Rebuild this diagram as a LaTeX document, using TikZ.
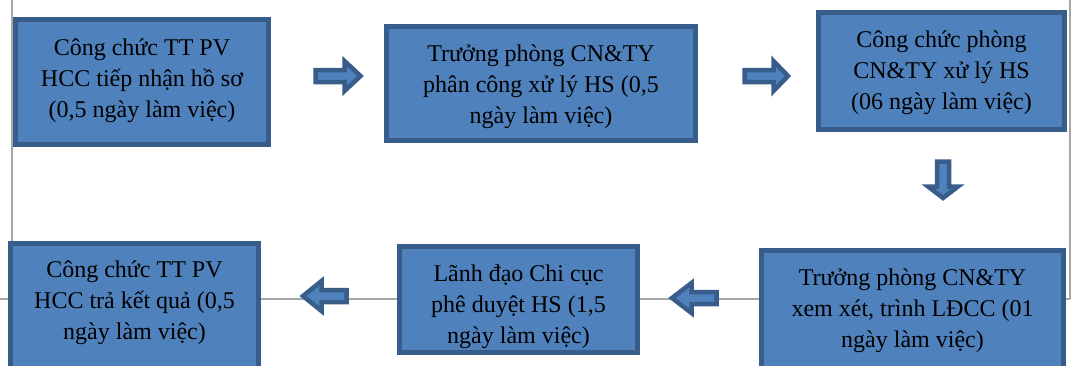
\documentclass[tikz,border=0pt]{standalone}
\usepackage{fontspec}
\setmainfont{Liberation Serif}
\definecolor{boxfill}{HTML}{4F81BD}
\definecolor{boxline}{HTML}{385D8A}
\definecolor{rulegray}{HTML}{A6A6A6}
\tikzset{
  stepbox/.style={draw=boxline, line width=5pt, fill=boxfill, inner sep=0pt},
  steptext/.style={align=center, font=\fontsize{24}{31}\selectfont, text=black, inner sep=0pt},
  frameline/.style={draw=rulegray, line width=2pt},
  arrowline/.style={draw=boxline, fill=boxfill, line width=4.5pt, line join=miter},
  pics/barrow/.style 2 args={code={
    \draw[arrowline] (0,-6) -- ({#1-#2},-6) -- ({#1-#2},-15) -- (#1,0)
      -- ({#1-#2},15) -- ({#1-#2},6) -- (0,6) -- cycle;
  }}
}
\begin{document}
\begin{tikzpicture}[x=1pt, y=-1pt]
\useasboundingbox (0,0) rectangle (1073,365);
\clip (0,0) rectangle (1073,365);

% page frame lines behind the flow
\coordinate (fl) at (12,0);
\coordinate (fr) at (1070,0);
\coordinate (hl) at (0,299);
\coordinate (hr) at (1070,299);
\draw[frameline] (fl) -- (fl |- hl);
\draw[frameline] (fr) -- (hr);
\draw[frameline] (hl) -- (hr);

% process steps
\node[stepbox, minimum width=253pt, minimum height=125pt] (s1) at (142,82) {};
\node[stepbox, minimum width=309pt, minimum height=114pt] (s2) at (541,83.5) {};
\node[stepbox, minimum width=246pt, minimum height=117pt] (s3) at (941.5,71) {};
\node[stepbox, minimum width=302pt, minimum height=125pt] (s4) at (912.5,313) {};
\node[stepbox, minimum width=238pt, minimum height=106pt] (s5) at (518.5,299.5) {};
\node[stepbox, minimum width=248pt, minimum height=125pt] (s6) at (134.5,306) {};

\node[steptext] (t1) at ([yshift=1pt]s1.center) {Công chức TT PV\\HCC tiếp nhận hồ sơ\\(0,5 ngày làm việc)};
\node[steptext] (t2) at ([yshift=-3.5pt]s2.center) {Trưởng phòng CN\&TY\\phân công xử lý HS (0,5\\ngày làm việc)};
\node[steptext] (t3) at ([yshift=-2pt]s3.center) {Công chức phòng\\CN\&TY xử lý HS\\(06 ngày làm việc)};
\node[steptext] (t4) at ([yshift=2pt]s4.center) {Trưởng phòng CN\&TY\\xem xét, trình LĐCC (01\\ngày làm việc)};
\node[steptext] (t5) at ([yshift=-7.5pt]s5.center) {Lãnh đạo Chi cục\\phê duyệt HS (1,5\\ngày làm việc)};
\node[steptext] (t6) at ([yshift=3pt]s6.center) {Công chức TT PV\\HCC trả kết quả (0,5\\ngày làm việc)};

% block arrows between the steps
\pic (a1) at (315.5,76) {barrow={45}{16}};
\pic (a2) at (744.5,76) {barrow={43.5}{14.5}};
\pic[rotate=-90] (a3) at (943,161.5) {barrow={36.5}{11.5}};
\pic[rotate=180] (a4) at (716.5,298) {barrow={44.5}{19.5}};
\pic[rotate=180] (a5) at (346.5,296) {barrow={43.5}{18.5}};
\end{tikzpicture}
\end{document}
